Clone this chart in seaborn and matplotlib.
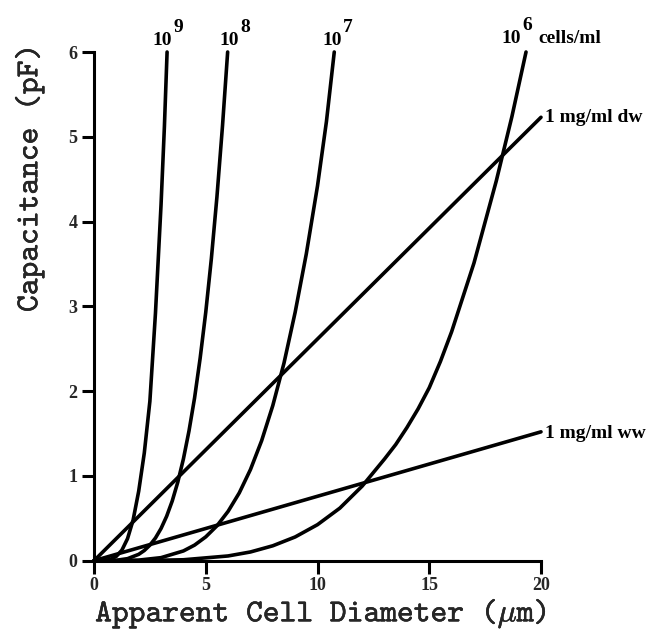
import matplotlib
matplotlib.use("Agg")
import matplotlib.pyplot as plt
import matplotlib.patheffects as pe
import pandas as pd
import seaborn as sns

# capacitance (pF) vs apparent cell diameter (um)
d_1e9 = [0, 0.5, 0.75, 1.0, 1.25, 1.5, 1.75, 2.0, 2.25, 2.5, 2.75, 3.0, 3.15, 3.27]
c_1e9 = [0, 0.003, 0.017, 0.052, 0.125, 0.26, 0.48, 0.82, 1.27, 1.88, 2.92, 4.2, 5.12, 6.0]

d_1e8 = [0, 0.5, 1.0, 1.5, 2.0, 2.25, 2.5, 2.75, 3.0, 3.25, 3.5, 3.75, 4.0, 4.25,
         4.5, 4.75, 5.0, 5.25, 5.5, 5.75, 5.98]
c_1e8 = [0, 0.0003, 0.005, 0.024, 0.075, 0.12, 0.183, 0.268, 0.38, 0.524, 0.704, 0.928,
         1.2, 1.53, 1.92, 2.39, 2.93, 3.56, 4.29, 5.13, 6.0]

d_1e7 = [0, 1, 2, 3, 4, 4.5, 5, 5.5, 6, 6.5, 7, 7.5, 8, 8.5, 9, 9.5, 10, 10.4, 10.75]
c_1e7 = [0, 0.0004, 0.007, 0.036, 0.115, 0.184, 0.281, 0.411, 0.582, 0.8, 1.075, 1.415,
         1.83, 2.33, 2.93, 3.62, 4.42, 5.18, 6.0]

d_1e6 = [0, 2, 4, 6, 7, 8, 9, 10, 11, 12, 13, 13.5, 14, 14.5, 15, 15.5, 16, 17, 18, 18.7, 19.33]
c_1e6 = [0, 0.0007, 0.011, 0.056, 0.103, 0.176, 0.28, 0.425, 0.62, 0.88, 1.2, 1.37, 1.57,
         1.79, 2.04, 2.35, 2.7, 3.51, 4.48, 5.24, 6.0]

d_dw = [0, 20]
c_dw = [0, 5.23]

d_ww = [0, 20]
c_ww = [0, 1.52]

series = {
    "1e9": (d_1e9, c_1e9),
    "1e8": (d_1e8, c_1e8),
    "1e7": (d_1e7, c_1e7),
    "1e6": (d_1e6, c_1e6),
    "dw": (d_dw, c_dw),
    "ww": (d_ww, c_ww),
}

df = pd.concat(
    [pd.DataFrame({"diameter": d, "cap": c, "series": k}) for k, (d, c) in series.items()],
    ignore_index=True,
)

sns.set_style("ticks")
plt.rcParams["font.family"] = ["Liberation Serif", "DejaVu Serif"]
plt.rcParams["mathtext.fontset"] = "cm"

W, H = 660, 640
fig = plt.figure(figsize=(W / 100, H / 100), dpi=100)
ax = fig.add_axes([94 / W, 1 - 560.7 / H, (541 - 94) / W, (560.7 - 52) / H])

sns.lineplot(
    data=df, x="diameter", y="cap", units="series", estimator=None,
    color="black", linewidth=2.6, ax=ax, clip_on=False,
    solid_capstyle="round", solid_joinstyle="round",
)

ax.set_xlim(0, 20)
ax.set_ylim(0, 6)
ax.set_xticks([0, 5, 10, 15, 20])
ax.set_yticks([0, 1, 2, 3, 4, 5, 6])
ax.set_xlabel("")
ax.set_ylabel("")
sns.despine(ax=ax)
for side in ("left", "bottom"):
    ax.spines[side].set_linewidth(2.2)
    ax.spines[side].set_color("black")
ax.tick_params(axis="both", direction="out", length=9, width=2.2, color="black",
               labelsize=13, pad=3)
for lab in ax.get_xticklabels() + ax.get_yticklabels():
    lab.set_fontweight("bold")


def px(x, y):
    return x / W, 1 - y / H


lab_kw = dict(fontsize=14, fontweight="bold", color="black")

# concentration labels above the curves: (base, exponent, base centre x, base baseline y)
for base, expo, cx, by in [("10", "9", 162, 45), ("10", "8", 229, 45),
                           ("10", "7", 332, 45), ("10", "6", 511, 43)]:
    fig.text(*px(cx, by), base, ha="center", va="baseline", **lab_kw)
    fig.text(*px(cx + 11, by - 13), expo, ha="left", va="baseline", **lab_kw)
fig.text(*px(538, 43), "cells/ml", ha="left", va="baseline", **lab_kw)
fig.text(*px(545, 118), "1 mg/ml dw", ha="left", va="center", **lab_kw)
fig.text(*px(545, 433), "1 mg/ml ww", ha="left", va="center", **lab_kw)

heavy = [pe.withStroke(linewidth=0.3, foreground="black")]
fig.text(*px(321, 614), r"Apparent Cell Diameter ($\mu$m)", ha="center", va="center",
         family="cmtt10", fontsize=23, path_effects=heavy)
fig.text(*px(30, 178), "Capacitance (pF)", ha="center", va="center", rotation=90,
         family="cmtt10", fontsize=23, path_effects=heavy)

fig.savefig("out.png", dpi=100, facecolor="white")
